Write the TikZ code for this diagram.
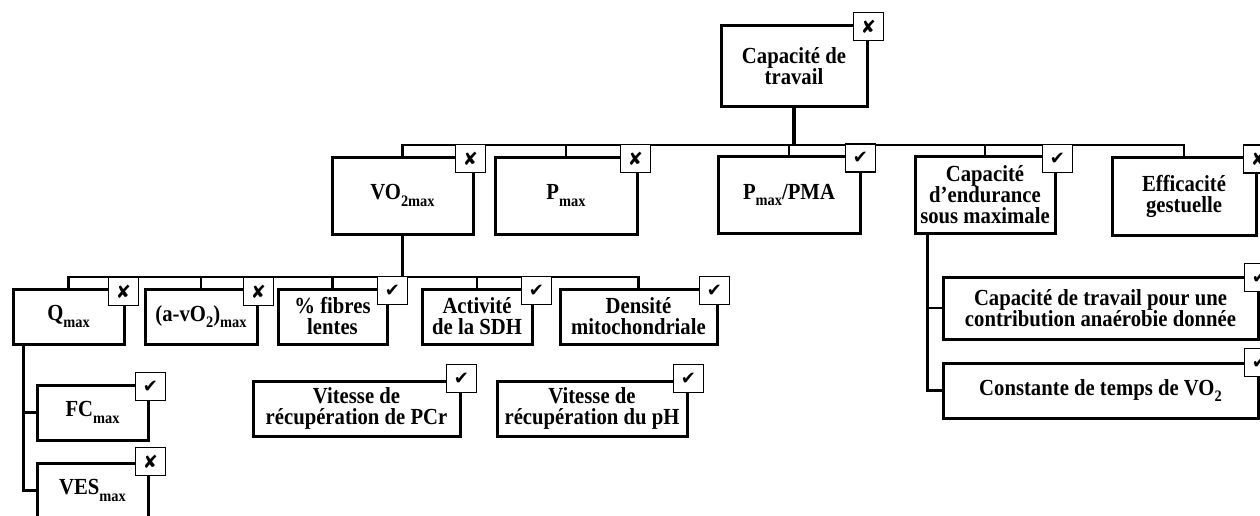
\documentclass[tikz,border=0pt]{standalone}
\usepackage{fontspec}
\setmainfont{Liberation Serif}[FakeStretch=0.9]
\newfontfamily\symfont{DejaVu Sans}
\newcommand\lsub[1]{\raisebox{-0.28em}{\fontsize{16}{16}\selectfont #1}}
\newcommand\yes{{\symfont\fontsize{18}{18}\selectfont ✔}}
\newcommand\no{{\symfont\fontsize{18}{18}\selectfont ✘}}
\tikzset{
  box/.style={draw, line width=3pt, fill=white, inner sep=0pt, align=center,
    font=\fontsize{23}{21}\selectfont\bfseries},
  chk/.style={draw, line width=1.7pt, fill=white, inner sep=0pt,
    minimum width=30pt, minimum height=28pt},
  conn/.style={line width=2.8pt},
  mainconn/.style={line width=3.6pt}
}
\begin{document}
\begin{tikzpicture}[x=1pt,y=-1pt]
\useasboundingbox (0,0) rectangle (1260,516);
\clip (0,0) rectangle (1260,516);
\fill[white] (0,0) rectangle (1260,516);
% top
\node[box, minimum width=146pt, minimum height=81pt] (top) at (794,66.5) {Capacité de\\travail};
% level 1
\node[box, minimum width=141pt, minimum height=77pt] (vo2) at (402.5,195.5) {VO\lsub{2max}};
\node[box, minimum width=142pt, minimum height=77pt] (pmax) at (566,195.5) {P\lsub{max}};
\node[box, minimum width=142pt, minimum height=77pt] (pma) at (789,195) {P\lsub{max}/PMA};
\node[box, minimum width=140pt, minimum height=77pt] (endur) at (985,194.5) {Capacité\\d’endurance\\sous maximale};
\node[box, minimum width=144pt, minimum height=78pt] (effic) at (1184,196.5) {Efficacité\\gestuelle};
% level 2
\node[box, minimum width=111pt, minimum height=55pt] (qmax) at (68.5,316.5) {Q\lsub{max}};
\node[box, minimum width=112pt, minimum height=55pt] (avo2) at (201,316.5) {(a-vO\lsub{2})\lsub{max}};
\node[box, minimum width=109pt, minimum height=55pt] (fib) at (332.5,316.5) {\% fibres\\lentes};
\node[box, minimum width=110pt, minimum height=55pt] (sdh) at (477,316.5) {Activité\\de la SDH};
\node[box, minimum width=157pt, minimum height=55pt] (dens) at (638.5,316.5) {Densité\\mitochondriale};
% level 3
\node[box, minimum width=111pt, minimum height=55pt] (fc) at (92.5,412.5) {FC\lsub{max}};
\node[box, minimum width=111pt, minimum height=55pt] (ves) at (92.5,490.5) {VES\lsub{max}};
\node[box, minimum width=207pt, minimum height=55pt] (pcr) at (356.5,408.5) {Vitesse de\\récupération de PCr};
\node[box, minimum width=190pt, minimum height=55pt] (ph) at (592,408.5) {Vitesse de\\récupération du pH};
\node[box, minimum width=315pt, minimum height=62pt] (contrib) at (1100.5,308) {Capacité de travail pour une\\contribution anaérobie donnée};
\node[box, minimum width=315pt, minimum height=55pt] (const) at (1100.5,390.5) {Constante de temps de VO\lsub{2}};
% connectors
\coordinate (bar1) at (0,145);
\coordinate (bar2) at (0,277);
\draw[mainconn] (top.south) -- (top.south |- bar1);
\draw[conn] (vo2.north) -- (vo2.north |- bar1) -- (effic.north |- bar1) -- (effic.north);
\draw[conn] (pmax.north) -- (pmax.north |- bar1);
\draw[conn] (pma.north) -- (pma.north |- bar1);
\draw[conn] (endur.north) -- (endur.north |- bar1);
\draw[conn] (vo2.south) -- (vo2.south |- bar2);
\draw[conn] (qmax.north) -- (qmax.north |- bar2) -- (dens.north |- bar2) -- (dens.north);
\draw[conn] (avo2.north) -- (avo2.north |- bar2);
\draw[conn] (fib.north) -- (fib.north |- bar2);
\draw[conn] (sdh.north) -- (sdh.north |- bar2);
\coordinate (qv) at ([xshift=12pt]qmax.south west);
\draw[conn] (qv) |- (fc.west);
\draw[conn] (qv) |- (ves.west);
\coordinate (ev) at ([xshift=14pt]endur.south west);
\draw[conn] (ev) |- (contrib.west);
\draw[conn] (ev) |- (const.west);
% check boxes
\node[chk] (ctop) at ([shift={(0,2)}]top.north east) {\no};
\node[chk] (cvo2) at ([shift={(-4,3)}]vo2.north east) {\no};
\node[chk] (cpmax) at ([shift={(-3,3)}]pmax.north east) {\no};
\node[chk] (cpma) at ([shift={(-1,3)}]pma.north east) {\yes};
\node[chk] (cendur) at ([shift={(1,4)}]endur.north east) {\yes};
\node[chk] (ceffic) at ([shift={(1,3)}]effic.north east) {\no};
\node[chk] (cqmax) at ([shift={(-2,4)}]qmax.north east) {\no};
\node[chk] (cavo2) at ([shift={(0,4)}]avo2.north east) {\no};
\node[chk] (cfib) at ([shift={(4,3)}]fib.north east) {\yes};
\node[chk] (csdh) at ([shift={(3,3)}]sdh.north east) {\yes};
\node[chk] (cdens) at ([shift={(-4,3)}]dens.north east) {\yes};
\node[chk] (cfc) at ([shift={(1,3)}]fc.north east) {\yes};
\node[chk] (cves) at ([shift={(1,0)}]ves.north east) {\no};
\node[chk] (cpcr) at ([shift={(0,-1)}]pcr.north east) {\yes};
\node[chk] (cph) at ([shift={(0,-1)}]ph.north east) {\yes};
\node[chk] (ccontrib) at ([shift={(0,2)}]contrib.north east) {\yes};
\node[chk] (cconst) at ([shift={(0,1)}]const.north east) {\yes};
\end{tikzpicture}
\end{document}
